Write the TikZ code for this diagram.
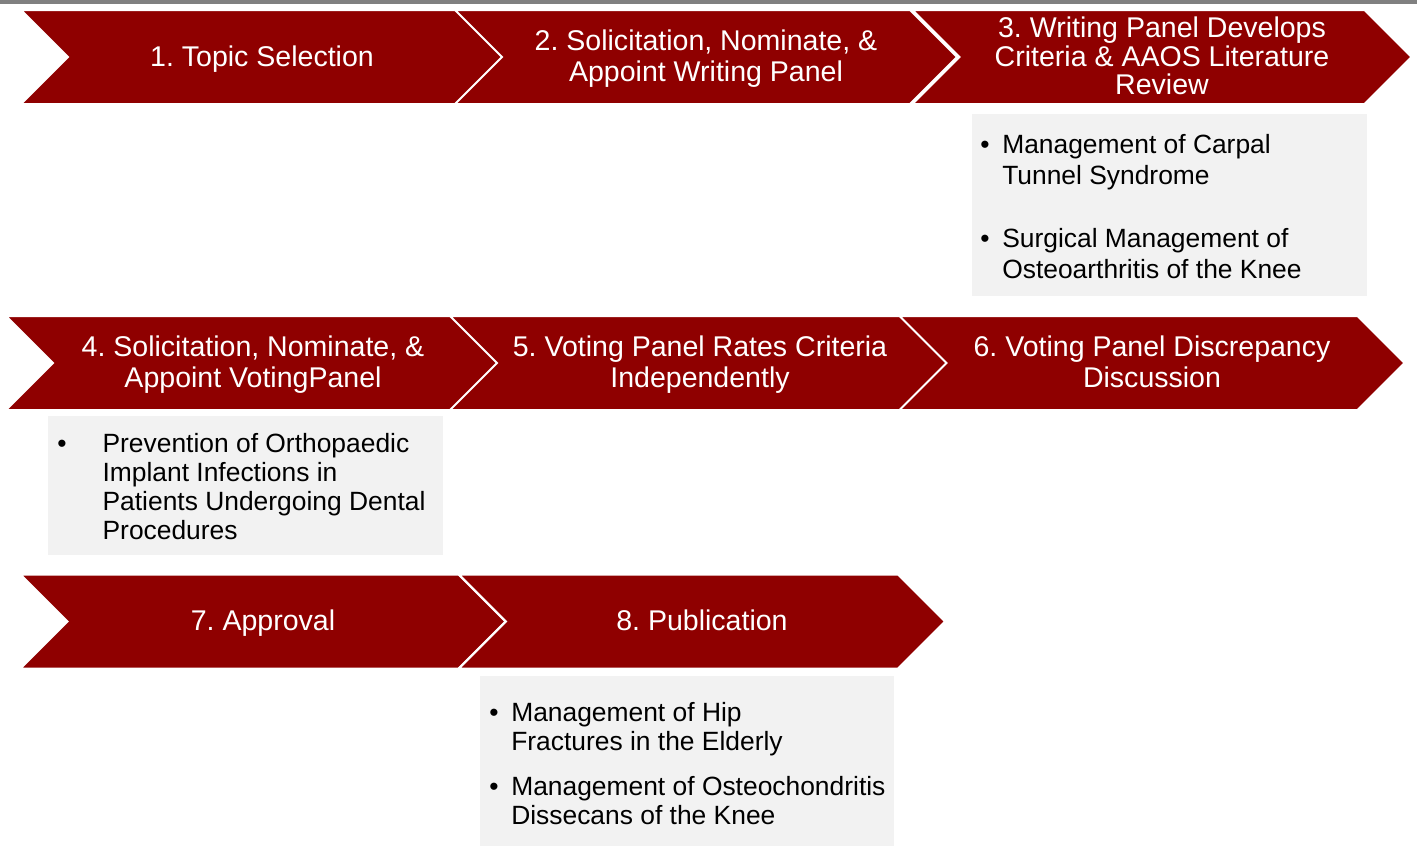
\documentclass[tikz,border=0pt]{standalone}
\usepackage{fontspec}
\setmainfont{Liberation Sans}
\usetikzlibrary{shapes.symbols}
\frenchspacing

\definecolor{stagered}{RGB}{143,0,0}
\definecolor{topicgray}{RGB}{242,242,242}
\definecolor{rulegray}{RGB}{128,128,128}

\tikzset{
	stage/.style={signal, signal from=west, signal to=east, signal pointer angle=90,
		fill=stagered, draw=white, line width=1.5pt, inner sep=0pt,
		minimum height=70.5pt, text depth=1.5pt, text=white, align=center,
		font=\fontsize{21.4}{23.25}\selectfont},
	topicbox/.style={fill=topicgray, inner sep=0pt, anchor=north west},
	topictext/.style={inner sep=0pt, anchor=west, font=\fontsize{19.8}{21.75}\selectfont},
}

\begin{document}
\begin{tikzpicture}[x=0.75pt, y=-0.75pt]

	\useasboundingbox (0,0) rectangle (1417,846);
	\fill[rulegray] (0,0) rectangle (1417,4);

	% first row
	\node[stage, minimum width=361.5pt]  (topic)    at ( 262, 57) {1. Topic Selection};
	\node[stage, minimum width=376.5pt]  (writers)  at ( 706, 57) {2. Solicitation, Nominate, \&\\Appoint Writing Panel};
	\node[stage, minimum width=374.25pt, font=\fontsize{21.4}{21.4}\selectfont]
	                                     (criteria) at (1162, 57) {3. Writing Panel Develops\\Criteria \& AAOS Literature\\Review};

	% second row
	\node[stage, minimum width=370.5pt]  (voters)   at ( 253,363) {4. Solicitation, Nominate, \&\\Appoint VotingPanel};
	\node[stage, minimum width=375pt]    (rating)   at ( 700,363) {5. Voting Panel Rates Criteria\\Independently};
	\node[stage, minimum width=378.75pt] (debate)   at (1152,363) {6. Voting Panel Discrepancy\\Discussion};

	% third row
	\node[stage, minimum width=363.75pt] (approval) at ( 263,621.5) {7. Approval};
	\node[stage, minimum width=364.5pt]  (publish)  at ( 702,621.5) {8. Publication};

	% topic boxes
	\node[topicbox, minimum width=296.25pt, minimum height=136.5pt] (criteriabox) at (972,114) {};
	\node[topicbox, minimum width=296.25pt, minimum height=104.25pt] (votersbox)  at ( 48,416) {};
	\node[topicbox, minimum width=310.5pt,  minimum height=127.5pt] (publishbox)  at (480,676) {};

	\node[topictext, font=\fontsize{19.8}{23.25}\selectfont] (criterialist) at (980,210) {%
		\begin{tabular}{@{}p{16.5pt}@{}l@{}}
			\textbullet & Management of Carpal\\
			            & Tunnel Syndrome\\[24pt]
			\textbullet & Surgical Management of\\
			            & Osteoarthritis of the Knee
		\end{tabular}};
	\node[topictext] (voterslist) at (57,490) {%
		\begin{tabular}{@{}p{34pt}@{}l@{}}
			\textbullet & Prevention of Orthopaedic\\
			            & Implant Infections in\\
			            & Patients Undergoing Dental\\
			            & Procedures
		\end{tabular}};
	\node[topictext] (publishlist) at (489,767) {%
		\begin{tabular}{@{}p{16.5pt}@{}l@{}}
			\textbullet & Management of Hip\\
			            & Fractures in the Elderly\\[12pt]
			\textbullet & Management of Osteochondritis\\
			            & Dissecans of the Knee
		\end{tabular}};
\end{tikzpicture}
\end{document}
